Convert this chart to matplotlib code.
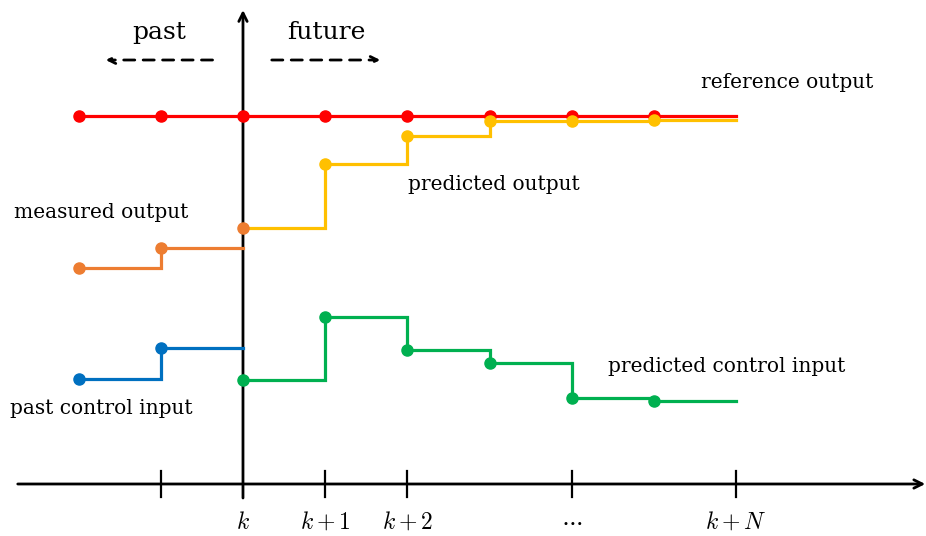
import matplotlib.pyplot as plt

# sample instants relative to k, and the levels
past_steps = [-2, -1]
measured_output = [2.16, 2.36]
past_input = [1.05, 1.36]
output_at_k = 2.56

future_steps = [1, 2, 3, 4, 5]
predicted_output = [3.20, 3.48, 3.63, 3.63, 3.64]
control_steps = [0, 1, 2, 3, 4, 5]
predicted_input = [1.04, 1.67, 1.34, 1.21, 0.86, 0.83]

ref_steps = [-2, -1, 0, 1, 2, 3, 4, 5]
reference = [3.68] * 8

horizon = 6
tick_steps = [-1, 1, 2, 4, 6]
tick_labels = ["", r"$k+1$", r"$k+2$", r"$\cdots$", r"$k+N$"]

RED = "#ff0000"
YELLOW = "#ffc000"
ORANGE = "#ed7d31"
BLUE = "#0070c0"
GREEN = "#00b050"

plt.rcParams["mathtext.fontset"] = "cm"
serif = "DejaVu Serif"

fig = plt.figure(figsize=(9.26, 5.36), dpi=100)
ax = fig.add_axes([0, 0, 1, 1])
ax.set_xlim(-2.956, 8.309)
ax.set_ylim(-0.52, 4.84)
ax.axis("off")


def stairs(steps, vals, end, color, dots=True, first=None):
    xs = list(steps) + [end]
    ys = list(vals) + [vals[-1]]
    if first is not None:
        xs = [first[0]] + xs
        ys = [first[1]] + ys
    ax.step(xs, ys, where="post", color=color, lw=2.3, zorder=3,
            solid_joinstyle="miter")
    if dots:
        ax.plot(steps, vals, "o", color=color, ms=8, zorder=4)


# axes with arrows
arrow = dict(arrowstyle="->,head_length=0.6,head_width=0.3",
             lw=2, color="black", shrinkA=0, shrinkB=0)
ax.annotate("", xy=(8.30, 0), xytext=(-2.74, 0), arrowprops=arrow,
            annotation_clip=False)
ax.annotate("", xy=(0, 4.74), xytext=(0, -0.14), arrowprops=arrow,
            annotation_clip=False, zorder=2)
for s, lab in zip(tick_steps, tick_labels):
    ax.plot([s, s], [-0.13, 0.13], color="black", lw=1.6)
    ax.text(s, -0.38, lab, ha="center", va="center", fontsize=17)
ax.text(0, -0.38, r"$k$", ha="center", va="center", fontsize=17)

# past / future arrows
dash = dict(arrowstyle="->,head_length=0.5,head_width=0.25",
            lw=2, ls=(0, (4, 3)), color="black", shrinkA=0, shrinkB=0)
ax.annotate("", xy=(-1.67, 4.24), xytext=(-0.37, 4.24), arrowprops=dash)
ax.annotate("", xy=(1.67, 4.24), xytext=(0.35, 4.24), arrowprops=dash)
ax.text(-1.02, 4.52, "past", ha="center", va="center", fontsize=18, family=serif)
ax.text(1.01, 4.52, "future", ha="center", va="center", fontsize=18, family=serif)

# reference
ax.plot(ref_steps + [horizon], reference + [reference[-1]], color=RED, lw=2.3, zorder=3)
ax.plot(ref_steps, reference, "o", color=RED, ms=8, zorder=3)

# measured / predicted output
stairs(past_steps, measured_output, 0, ORANGE)
stairs(future_steps, predicted_output, horizon, YELLOW, first=(0, output_at_k))
ax.plot([0], [output_at_k], "o", color=ORANGE, ms=8, zorder=5)

# control inputs
stairs(past_steps, past_input, 0, BLUE)
stairs(control_steps, predicted_input, horizon, GREEN)

# labels
ax.text(6.62, 4.02, "reference output", ha="center", va="center", fontsize=14.5, family=serif)
ax.text(3.05, 3.0, "predicted output", ha="center", va="center", fontsize=14.5, family=serif)
ax.text(-1.72, 2.72, "measured output", ha="center", va="center", fontsize=14.5, family=serif)
ax.text(-1.72, 0.75, "past control input", ha="center", va="center", fontsize=14.5, family=serif)
ax.text(5.88, 1.17, "predicted control input", ha="center", va="center", fontsize=14.5, family=serif)

fig.savefig("out.png", dpi=100)
